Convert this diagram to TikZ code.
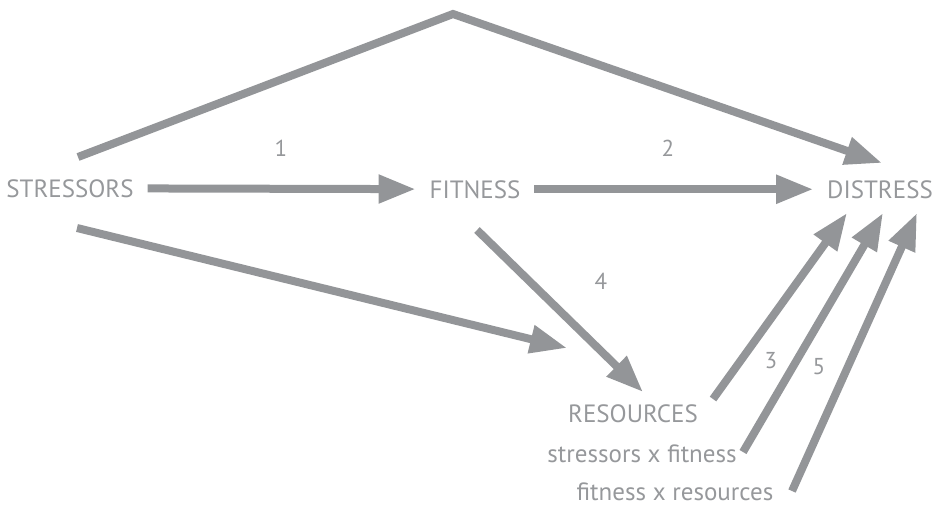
\documentclass[tikz,border=0pt]{standalone}
\usepackage{fontspec}
\setmainfont{PT Sans}
\usetikzlibrary{arrows.meta}
\usetikzlibrary{positioning}
\definecolor{arrowgray}{RGB}{147,149,152}
\definecolor{textgray}{RGB}{150,152,155}
\tikzset{
   box/.style={text=textgray, font=\fontsize{25}{28}\selectfont,
      inner sep=0pt, outer sep=14pt, anchor=base},
   num/.style={text=textgray, font=\fontsize{23}{26}\selectfont, inner sep=0pt},
   link/.style={draw=arrowgray, line width=8pt,
      -{Triangle[length=37pt,width=27pt]}},
}

\begin{document}
\begin{tikzpicture}[x=1pt,y=-1pt]
   \useasboundingbox (0,0) rectangle (936,507);

   \node[box] (stressors) at (70,197) {STRESSORS};
   \node[box] (fitness) at (475,198) {FITNESS};
   \node[box] (distress) at (880,198) {DISTRESS};
   \node[box] (resources) at (633,422) {RESOURCES};
   \node[box] (sxf) at (642,462) {stressors x fitness};
   \node[box] (fxr) at (675,500) {fitness x resources};

   \node[num] (n1) at (281,148) {1};
   \node[num] (n2) at (668,148) {2};
   \node[num] (n3) at (771,361) {3};
   \node[num] (n4) at (601,281) {4};
   \node[num] (n5) at (819,367) {5};

   % free ends of the connectors
   \coordinate (top0) at (78,157);
   \coordinate (peak) at (453,14);
   \coordinate (top1) at (882,163);
   \coordinate (sr0) at (77,228);
   \coordinate (sr1) at (567,348);
   \coordinate (fr0) at (477,230);
   \coordinate (fr1) at (643,392);
   \coordinate (rd0) at (713,399);
   \coordinate (rd1) at (847,213);
   \coordinate (xd0) at (743,452);
   \coordinate (xd1) at (883,213);
   \coordinate (yd0) at (792,491);
   \coordinate (yd1) at (917,213);

   \draw[link] (stressors) -- (fitness);
   \draw[link] (fitness) -- (distress);
   \draw[link] (top0) -- (peak) -- (top1);
   \draw[link] (sr0) -- (sr1);
   \draw[link] (fr0) -- (fr1);
   \draw[link] (rd0) -- (rd1);
   \draw[link] (xd0) -- (xd1);
   \draw[link] (yd0) -- (yd1);
\end{tikzpicture}
\end{document}
